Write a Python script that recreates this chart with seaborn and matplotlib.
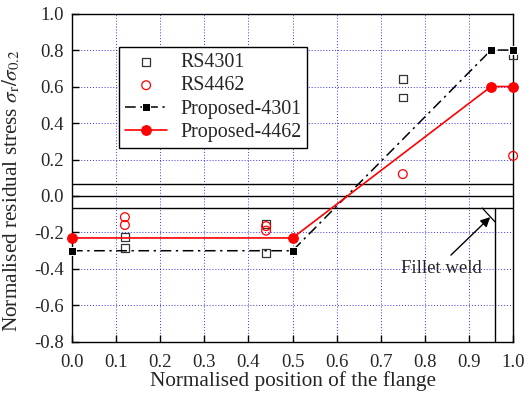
import matplotlib
matplotlib.use("Agg")
import matplotlib.pyplot as plt
import seaborn as sns
import pandas as pd

# Data
rs4301_x = [0.12, 0.12, 0.44, 0.44, 0.75, 0.75, 1.0]
rs4301_y = [-0.224, -0.285, -0.154, -0.313, 0.64, 0.54, 0.77]
rs4462_x = [0.12, 0.12, 0.44, 0.44, 0.75, 1.0]
rs4462_y = [-0.116, -0.159, -0.165, -0.19, 0.12, 0.22]
prop_x = [0.0, 0.5, 0.95, 1.0]
prop4301_y = [-0.30, -0.30, 0.80, 0.80]
prop4462_y = [-0.23, -0.23, 0.60, 0.60]
xticks = [0.0, 0.1, 0.2, 0.3, 0.4, 0.5, 0.6, 0.7, 0.8, 0.9, 1.0]
yticks = [-0.8, -0.6, -0.4, -0.2, 0.0, 0.2, 0.4, 0.6, 0.8, 1.0]

sns.set_style("ticks")
plt.rcParams['font.family'] = ['Liberation Serif', 'DejaVu Serif']
plt.rcParams['mathtext.fontset'] = 'stix'

fig = plt.figure(figsize=(5.29, 3.99), dpi=100)
ax = fig.add_axes([0.136, 0.143, 0.834, 0.823])

df43 = pd.DataFrame({"x": rs4301_x, "y": rs4301_y})
df44 = pd.DataFrame({"x": rs4462_x, "y": rs4462_y})
dp43 = pd.DataFrame({"x": prop_x, "y": prop4301_y})
dp44 = pd.DataFrame({"x": prop_x, "y": prop4462_y})

sns.scatterplot(data=df43, x="x", y="y", ax=ax, marker="s", s=30,
                facecolor="none", edgecolor="#333333", linewidth=0.9,
                label="RS4301", clip_on=False, zorder=5)
sns.scatterplot(data=df44, x="x", y="y", ax=ax, marker="o", s=40,
                facecolor="none", edgecolor="red", linewidth=0.9,
                label="RS4462", clip_on=False, zorder=5)
sns.lineplot(data=dp43, x="x", y="y", ax=ax, sort=False, color="black",
             linewidth=1.1, marker="s", markersize=6, dashes=False,
             label="Proposed-4301", clip_on=False, zorder=6)
ax.lines[-1].set_dashes([7, 3, 1.5, 3])
sns.lineplot(data=dp44, x="x", y="y", ax=ax, sort=False, color="red",
             linewidth=1.2, marker="o", markersize=7, markeredgecolor="red",
             label="Proposed-4462", clip_on=False, zorder=6)

# flange / weld sketch
for yy in [0.065, 0.0, -0.066]:
    ax.plot([0, 1], [yy, yy], color="black", linewidth=1.0, zorder=3)
ax.plot([0.959, 0.959], [-0.066, -0.8], color="black", linewidth=1.0, zorder=3)
ax.plot([0.93, 0.959], [-0.066, -0.142], color="black", linewidth=0.9, zorder=3)
ax.text(0.838, -0.395, "Fillet weld", ha="center", va="center", fontsize=13.5)
ax.annotate("", xy=(0.948, -0.116), xytext=(0.859, -0.324),
            arrowprops=dict(arrowstyle="-|>", color="black", lw=1.0,
                            shrinkA=0, shrinkB=0, mutation_scale=14))

ax.set_xlim(0, 1.0)
ax.set_ylim(-0.8, 1.0)
ax.set_xticks(xticks)
ax.set_yticks(yticks)
ax.set_xticklabels([f"{v:.1f}" for v in xticks])
ax.set_yticklabels([f"{v:.1f}" for v in yticks])
ax.tick_params(direction="in", labelsize=13.5, length=5, width=1, color="black")
ax.tick_params(axis="x", pad=9)
ax.tick_params(axis="y", pad=6)
ax.grid(True, color="blue", linestyle=(0, (1, 2)), linewidth=0.7, alpha=0.8)
ax.set_axisbelow(True)
for sp in ax.spines.values():
    sp.set_visible(True)
    sp.set_color("black")
    sp.set_linewidth(1.0)

ax.set_xlabel("Normalised position of the flange", fontsize=15.3, labelpad=0)
ax.set_ylabel(r"Normalised residual stress $\sigma_{\mathrm{r}}/\sigma_{0.2}$", fontsize=15.3)
ax.yaxis.set_label_coords(-0.112, 0.46)

leg = ax.legend(loc="upper left", bbox_to_anchor=(0.107, 0.898), fontsize=14.4,
                frameon=True, fancybox=False, edgecolor="black",
                handlelength=2.1, borderpad=0.3, labelspacing=0.22,
                handletextpad=0.65, borderaxespad=0.0)
leg.get_frame().set_linewidth(1.0)
leg.get_frame().set_alpha(1.0)

fig.savefig("out.png", dpi=100)
